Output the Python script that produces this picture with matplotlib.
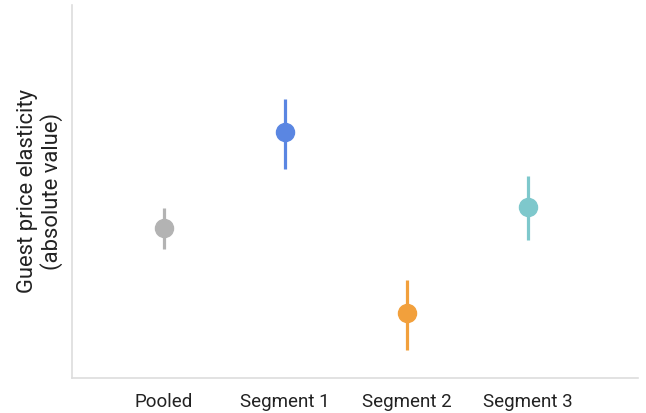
import matplotlib.pyplot as plt

categories = ["Pooled", "Segment 1", "Segment 2", "Segment 3"]
estimates = [0.402, 0.660, 0.174, 0.458]
ci_low = [0.346, 0.560, 0.075, 0.370]
ci_high = [0.456, 0.748, 0.263, 0.542]
colors = ["#b3b3b3", "#5a86e2", "#f2a03c", "#7ec8cc"]

plt.rcParams["font.family"] = ["Roboto", "DejaVu Sans"]

fig = plt.figure(figsize=(6.46, 4.13), dpi=100)
ax = fig.add_axes([0.111, 0.085, 0.877, 0.903])

for i, (est, lo, hi, c) in enumerate(zip(estimates, ci_low, ci_high, colors)):
    ax.plot([i, i], [lo, hi], color=c, linewidth=2.3, solid_capstyle="butt")
    ax.plot(i, est, "o", color=c, markersize=13)

ax.set_xlim(-0.76, 3.91)
ax.set_ylim(0, 1)
ax.set_xticks(range(len(categories)))
ax.set_xticklabels(categories, fontsize=13.5, color="#222222")
ax.tick_params(axis="x", length=0, pad=11)
ax.set_yticks([])
ax.set_ylabel("Guest price elasticity\n(absolute value)", fontsize=15.8,
              color="#222222", linespacing=1.15, labelpad=6)

for side in ["top", "right"]:
    ax.spines[side].set_visible(False)
for side in ["left", "bottom"]:
    ax.spines[side].set_color("#dddddd")
    ax.spines[side].set_linewidth(1.2)

fig.savefig("out.png", dpi=100)
